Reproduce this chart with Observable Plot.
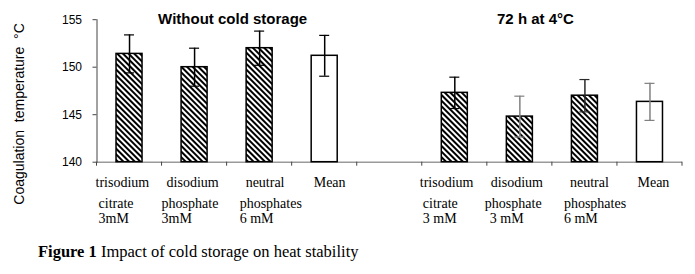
<!DOCTYPE html>
<html>
<head>
<meta charset="utf-8">
<script src="https://cdn.jsdelivr.net/npm/d3@7"></script>
<script src="https://cdn.jsdelivr.net/npm/@observablehq/plot@0.6"></script>
<style>
  body { margin: 0; background: white; width: 695px; height: 274px; position: relative; overflow: hidden; }
  svg text { white-space: pre; }
  #caption { position: absolute; left: 38px; top: 244px; font-family: "Liberation Serif", "Times New Roman", serif; font-size: 16.5px; line-height: 16.5px; color: #000; white-space: nowrap; }
</style>
</head>
<body>
<div id="chart"></div>
<div id="caption"><b>Figure 1</b> Impact of cold storage on heat stability</div>
<script>
// ---- data ----
const categories = ["A1", "A2", "A3", "AM", "gap", "B1", "B2", "B3", "BM"];
const barCats = ["A1", "A2", "A3", "AM", "B1", "B2", "B3", "BM"];
const means  = [151.4, 150.0, 152.0, 151.2, 147.3, 144.8, 147.0, 146.35];
const errors = [2.0, 2.0, 1.8, 2.15, 1.65, 2.15, 1.7, 1.95];
const isMean = [false, false, false, true, false, false, false, true];
const labelLines = [
  ["trisodium", "citrate", "3mM"],
  ["disodium", "phosphate", "3mM"],
  ["neutral", "phosphates", "6 mM"],
  ["Mean"],
  ["trisodium", "citrate", "3 mM"],
  ["disodium", "phosphate", "3 mM"],
  ["neutral", "phosphates", "6 mM"],
  ["Mean"]
];
const groupTitles = ["Without cold storage", "72 h at 4°C"];
const yTicks = [140, 145, 150, 155];
const yLabel = "Coagulation  temperature  °C";

// ---- styles (not data) ----
const errorColors = ["#000", "#000", "#000", "#000", "#000", "#808080", "#2a2a2a", "#808080"];
const labelDx = [
  [-34, -31, -31], [-28, -33, -33], [-14, -20, -20], [-11],
  [-35, -32, -32], [-29, -35, -30], [-15, -21, -21], [-12.5]
];
const lineDy = [14.4, 35.4, 50.9];
const titleAnchorCat = ["A3", "B2"];
const titleDx = [-27, 15.6];

const bars = barCats.map((c, i) => ({cat: c, mean: means[i], err: errors[i], isMean: isMean[i], ecol: errorColors[i]}));

const hatchDefs = () => {
  const defs = d3.create("svg:defs");
  const p = defs.append("pattern").attr("id", "hatch").attr("patternUnits", "userSpaceOnUse")
    .attr("width", 4).attr("height", 4).attr("patternTransform", "rotate(-45)");
  p.append("rect").attr("width", 4).attr("height", 4).attr("fill", "white");
  p.append("rect").attr("width", 2).attr("height", 4).attr("fill", "black");
  return defs.node();
};

const boundaryTicks = (index, scales, values, dimensions) => {
  const x = scales.x, y = scales.y;
  const bw = x.bandwidth ? x.bandwidth() : 0;
  const step = x(categories[1]) - x(categories[0]);
  const pad = (step - bw) / 2;
  const y0 = y(yTicks[0]);
  const g = d3.create("svg:g").attr("stroke", "#444").attr("stroke-width", 1);
  const xs = categories.map(c => x(c) - pad);
  xs.push(x(categories[categories.length - 1]) + bw + pad);
  xs.forEach(px => g.append("line").attr("x1", px).attr("x2", px).attr("y1", y0).attr("y2", y0 + 4));
  return g.node();
};

const marks = [
  hatchDefs,
  Plot.ruleY([yTicks[0]], {stroke: "#9a9a9a", strokeWidth: 1.5}),
  Plot.frame({anchor: "left", stroke: "#444"}),
  Plot.axisY({ticks: yTicks, tickSize: 4, tickPadding: 11, fontSize: 12, label: null, stroke: "#444"}),
  boundaryTicks,
  Plot.barY(bars.filter(d => !d.isMean), {x: "cat", y1: yTicks[0], y2: "mean", fill: "url(#hatch)", stroke: "black", strokeWidth: 1.5}),
  Plot.barY(bars.filter(d => d.isMean), {x: "cat", y1: yTicks[0], y2: "mean", fill: "white", stroke: "black", strokeWidth: 1.5}),
  Plot.ruleX(bars, {x: "cat", y1: d => d.mean - d.err, y2: d => d.mean + d.err, stroke: "ecol", strokeWidth: 1.5}),
  Plot.tickY(bars, {x: "cat", y: d => d.mean + d.err, stroke: "ecol", strokeWidth: 1.2, inset: 8}),
  Plot.tickY(bars, {x: "cat", y: d => d.mean - d.err, stroke: "ecol", strokeWidth: 1.2, inset: 8}),
  Plot.text([yLabel], {frameAnchor: "left", text: d => d, rotate: -90, textAnchor: "middle", lineAnchor: "middle",
    dx: -77, dy: 23, fontSize: 14, fontFamily: "Liberation Sans, Arial, sans-serif", fill: "#000"})
];

groupTitles.forEach((t, i) => {
  marks.push(Plot.text([t], {x: () => titleAnchorCat[i], text: d => d, frameAnchor: "top", lineAnchor: "middle",
    dx: titleDx[i], dy: -1, fontSize: 15, fontWeight: "bold", fontFamily: "Liberation Sans, Arial, sans-serif", fill: "#000"}));
});

labelLines.forEach((lines, i) => {
  lines.forEach((line, j) => {
    marks.push(Plot.text([line], {x: () => barCats[i], text: d => d, frameAnchor: "bottom", lineAnchor: "top",
      textAnchor: "start", dx: labelDx[i][j], dy: lineDy[j], fontSize: 14,
      fontFamily: "Liberation Serif, Times New Roman, serif", fill: "#000"}));
  });
});

const chart = Plot.plot({
  width: 695,
  height: 235,
  marginTop: 19.2,
  marginBottom: 73.3,
  marginLeft: 96.5,
  marginRight: 13,
  style: {background: "white", fontFamily: "Liberation Sans, Arial, sans-serif", fontSize: "12px", color: "#000", overflow: "visible"},
  x: {type: "band", domain: categories, paddingInner: 0.6, paddingOuter: 0.3, round: false, axis: null},
  y: {domain: [140, 155], axis: null},
  color: {type: "identity"},
  marks
});
document.getElementById("chart").appendChild(chart);
</script>
</body>
</html>
